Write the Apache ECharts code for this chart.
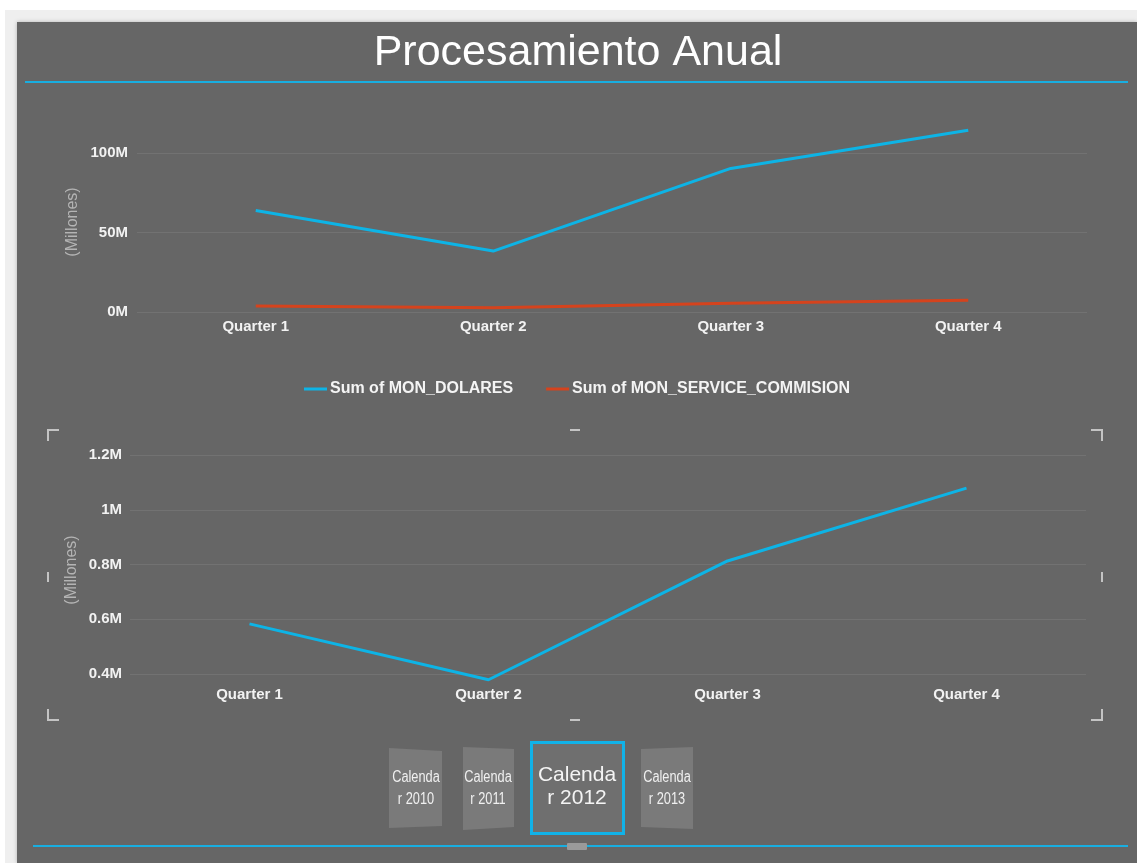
<!DOCTYPE html>
<html>
<head>
<meta charset="utf-8">
<title>Procesamiento Anual</title>
<script src="https://cdn.jsdelivr.net/npm/echarts@6/dist/echarts.min.js"></script>
<style>
  html, body { margin: 0; padding: 0; background: #ffffff; }
  #chart { width: 1137px; height: 863px; }
</style>
</head>
<body>
<div id="chart"></div>
<script>
// Quarterly totals for the selected calendar year (values in millions)
const quarters = ['Quarter 1', 'Quarter 2', 'Quarter 3', 'Quarter 4'];
const sumDolares = [63.9, 38.3, 90.3, 114.3];
const sumServiceCommision = [3.8, 2.7, 5.5, 7.4];
const detalleCommision = [0.583, 0.379, 0.813, 1.079];

// Axis ranges and tick steps (millions)
const topAxisMin = 0, topAxisMax = 100, topAxisStep = 50;
const bottomAxisMin = 0.4, bottomAxisMax = 1.2, bottomAxisStep = 0.2;

// Year slicer tiles
const calendarYears = ['2010', '2011', '2012', '2013'];
const selectedYear = '2012';

const seriesNames = ['Sum of MON_DOLARES', 'Sum of MON_SERVICE_COMMISION'];
const titleText = 'Procesamiento Anual';
const axisName = '(Millones)';

const BLUE = '#0db4e6';
const RED = '#d5431d';
const PANEL = '#666666';
const GRID_LINE = '#727272';
const LABEL = '#f2f2f2';
const FONT = '"Liberation Sans", Arial, sans-serif';

const chart = echarts.init(document.getElementById('chart'), null, { renderer: 'canvas' });

const fmtM = v => (+(+v).toFixed(1)) + 'M';

// Slicer tile geometry (slight perspective on the unselected tiles)
const tileShapes = {
  '2010': [[389, 748], [442, 751], [442, 826], [389, 828]],
  '2011': [[463, 747], [514, 749], [514, 827], [463, 830]],
  '2013': [[641, 749], [693, 747], [693, 829], [641, 827]]
};
const tileCenters = { '2010': 416, '2011': 488, '2012': 577, '2013': 667 };

const graphics = [
  { type: 'rect', z: -10, silent: true, shape: { x: 5, y: 10, width: 1132, height: 853 }, style: { fill: '#efefef' } },
  { type: 'rect', z: -9, silent: true, shape: { x: 17, y: 22, width: 1120, height: 841 }, style: { fill: PANEL, shadowBlur: 4, shadowColor: 'rgba(0,0,0,0.25)' } },
  { type: 'text', z: 5, style: { text: titleText, x: 578, y: 53, align: 'center', verticalAlign: 'middle', fill: '#ffffff', font: '43px ' + FONT } },
  { type: 'line', z: 5, shape: { x1: 25, y1: 82, x2: 1128, y2: 82 }, style: { stroke: '#19aee0', lineWidth: 2 } },
  { type: 'text', z: 5, rotation: Math.PI / 2, x: 73, y: 222, style: { text: axisName, align: 'center', verticalAlign: 'middle', fill: '#b4b4b4', font: '16px ' + FONT } },
  { type: 'text', z: 5, rotation: Math.PI / 2, x: 72, y: 570, style: { text: axisName, align: 'center', verticalAlign: 'middle', fill: '#b4b4b4', font: '16px ' + FONT } },
  { type: 'line', z: 5, shape: { x1: 33, y1: 846, x2: 1128, y2: 846 }, style: { stroke: '#19aee0', lineWidth: 2 } },
  { type: 'rect', z: 6, shape: { x: 567, y: 843, width: 20, height: 7, r: 1 }, style: { fill: '#9a9a9a' } }
];

// Focus-frame corner marks around the lower chart
const markColor = '#c4c4c4';
const marks = [
  [[48, 441], [48, 430], [59, 430]],
  [[1091, 430], [1102, 430], [1102, 441]],
  [[48, 709], [48, 720], [59, 720]],
  [[1091, 720], [1102, 720], [1102, 709]],
  [[48, 572], [48, 582]],
  [[1102, 572], [1102, 582]],
  [[570, 430], [580, 430]],
  [[570, 720], [580, 720]]
];
marks.forEach(pts => graphics.push({ type: 'polyline', z: 5, shape: { points: pts }, style: { stroke: markColor, lineWidth: 2, fill: null } }));

// Year slicer
calendarYears.forEach(year => {
  const cx = tileCenters[year];
  if (year === selectedYear) {
    graphics.push({ type: 'rect', z: 5, shape: { x: 531.5, y: 742.5, width: 92, height: 91 }, style: { fill: '#6f6f6f', stroke: '#11b2e8', lineWidth: 3 } });
    graphics.push({ type: 'text', z: 6, style: { text: 'Calenda', x: cx, y: 775, align: 'center', verticalAlign: 'middle', fill: '#f4f4f4', font: '21px ' + FONT } });
    graphics.push({ type: 'text', z: 6, style: { text: 'r ' + year, x: cx, y: 798, align: 'center', verticalAlign: 'middle', fill: '#f4f4f4', font: '21px ' + FONT } });
  } else {
    graphics.push({ type: 'polygon', z: 5, shape: { points: tileShapes[year] }, style: { fill: '#7a7a7a' } });
    graphics.push({ type: 'text', z: 6, x: cx, y: 778, scaleX: 0.8, style: { text: 'Calenda', x: 0, y: 0, align: 'center', verticalAlign: 'middle', fill: '#f0f0f0', font: '16px ' + FONT } });
    graphics.push({ type: 'text', z: 6, x: cx, y: 800, scaleX: 0.8, style: { text: 'r ' + year, x: 0, y: 0, align: 'center', verticalAlign: 'middle', fill: '#f0f0f0', font: '16px ' + FONT } });
  }
});

const axisLabelStyle = { color: LABEL, fontSize: 15, fontWeight: 'bold', fontFamily: FONT };

const option = {
  animation: false,
  backgroundColor: '#ffffff',
  graphic: graphics,
  legend: {
    left: 299,
    top: 376,
    icon: 'rect',
    itemWidth: 23,
    itemHeight: 3,
    itemGap: 33,
    data: seriesNames,
    textStyle: { color: '#f4f4f4', fontSize: 16, fontWeight: 'bold', fontFamily: FONT, padding: [0, 0, 0, -2] }
  },
  grid: [
    { left: 137, top: 153, width: 950, height: 159 },
    { left: 130, top: 455, width: 956, height: 219 }
  ],
  xAxis: [
    {
      gridIndex: 0, type: 'category', data: quarters, boundaryGap: true,
      axisLine: { show: false }, axisTick: { show: false },
      axisLabel: Object.assign({ margin: 7 }, axisLabelStyle)
    },
    {
      gridIndex: 1, type: 'category', data: quarters, boundaryGap: true,
      axisLine: { show: false }, axisTick: { show: false },
      axisLabel: Object.assign({ margin: 13 }, axisLabelStyle)
    }
  ],
  yAxis: [
    {
      gridIndex: 0, type: 'value', min: topAxisMin, max: topAxisMax, interval: topAxisStep,
      axisLine: { show: false }, axisTick: { show: false },
      splitLine: { show: true, lineStyle: { color: GRID_LINE, width: 1 } },
      axisLabel: Object.assign({ margin: 9, formatter: fmtM }, axisLabelStyle)
    },
    {
      gridIndex: 1, type: 'value', min: bottomAxisMin, max: bottomAxisMax, interval: bottomAxisStep,
      axisLine: { show: false }, axisTick: { show: false },
      splitLine: { show: true, lineStyle: { color: GRID_LINE, width: 1 } },
      axisLabel: Object.assign({ margin: 8, formatter: fmtM }, axisLabelStyle)
    }
  ],
  series: [
    {
      name: seriesNames[0], type: 'line', xAxisIndex: 0, yAxisIndex: 0, data: sumDolares,
      symbol: 'none', clip: false, color: BLUE, lineStyle: { color: BLUE, width: 3 }, z: 3
    },
    {
      name: seriesNames[1], type: 'line', xAxisIndex: 0, yAxisIndex: 0, data: sumServiceCommision,
      symbol: 'none', clip: false, color: RED, lineStyle: { color: RED, width: 3 }, z: 3
    },
    {
      name: 'Detalle', type: 'line', xAxisIndex: 1, yAxisIndex: 1, data: detalleCommision,
      symbol: 'none', clip: false, color: BLUE, lineStyle: { color: BLUE, width: 3 }, z: 3
    }
  ]
};

chart.setOption(option);
</script>
</body>
</html>
